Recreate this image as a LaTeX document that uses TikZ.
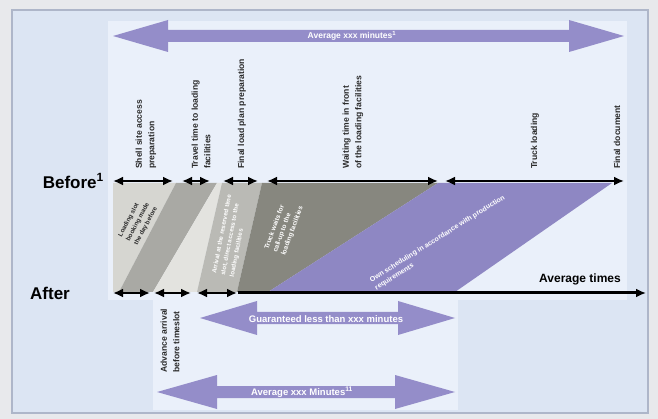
\documentclass[tikz,border=0pt]{standalone}
\usepackage{fontspec}
\setmainfont{Liberation Sans}
\usetikzlibrary{arrows.meta}
\definecolor{bgout}{HTML}{E8E9EC}
\definecolor{framefill}{HTML}{DCE5F3}
\definecolor{framedraw}{HTML}{AEB6C9}
\definecolor{lightarea}{HTML}{EAF0FA}
\definecolor{purp}{HTML}{8E87C3}
\definecolor{purparrow}{HTML}{948DC9}
\definecolor{gA}{HTML}{D6D6D1}
\definecolor{gB}{HTML}{A9A9A4}
\definecolor{gC}{HTML}{E3E3DF}
\definecolor{gD}{HTML}{BABAB5}
\definecolor{gE}{HTML}{87877F}
\definecolor{darktext}{HTML}{2A2A2A}
\newcommand\dblarrow[5]{%
  \fill[purparrow] (#1,#3) -- (#1+#4,#3-#5) -- (#1+#4,#3-6) -- (#2-#4,#3-6) -- (#2-#4,#3-#5) -- (#2,#3)
   -- (#2-#4,#3+#5) -- (#2-#4,#3+6) -- (#1+#4,#3+6) -- (#1+#4,#3+#5) -- cycle;}
\tikzset{
  tip/.tip={Latex[length=10pt 0,width=9pt 0]},
  seg/.style={line width=2.8pt, tip-tip},
  segend/.style={line width=3pt, -tip},
  vlabel/.style={rotate=90, anchor=west, align=left, inner sep=0pt,
     font=\fontsize{8.6}{12.5}\selectfont\bfseries, text=darktext},
  rowlabel/.style={font=\fontsize{17}{20}\selectfont\bfseries, inner sep=0pt},
  arrowtext/.style={text=white, font=\fontsize{9.5}{11}\selectfont\bfseries, inner sep=0pt},
  bandtext/.style={font=\fontsize{6.2}{9}\selectfont\bfseries, inner sep=0pt, align=left},
}
\begin{document}
\begin{tikzpicture}[x=1pt,y=-1pt]
\useasboundingbox (0,0) rectangle (658,419);
% backgrounds
\fill[bgout] (0,0) rectangle (658,419);
\filldraw[fill=framefill, draw=framedraw, line width=1.6pt] (12,10) rectangle (648,413);
\fill[lightarea] (108,21) rectangle (627,300);
\fill[lightarea] (153,300) rectangle (458,410);

% bands
\fill[gA] (113,183) -- (176,183) -- (119,292) -- (113,292) -- cycle;
\fill[gB] (176,183) -- (217,183) -- (153,292) -- (119,292) -- cycle;
\fill[gC] (217,183) -- (222,183) -- (197,292) -- (153,292) -- cycle;
\fill[gD] (222,183) -- (262,183) -- (237,292) -- (197,292) -- cycle;
\fill[gE] (262,183) -- (438,183) -- (268,292) -- (237,292) -- cycle;
\fill[purp] (438,183) -- (612,183) -- (455,292) -- (268,292) -- cycle;

% band texts
\node[bandtext, rotate=62, text=darktext] (t1) at (138,222) {Loading slot\\booking made\\the day before};
\node[bandtext, rotate=79, text=white] (t2) at (231,236) {Arrival at the reserved time\\slot, direct access to the\\loading facilities};
\node[bandtext, rotate=70, text=white, font=\fontsize{6.6}{9}\selectfont\bfseries] (t3) at (284,228) {Truck waits for\\call-up to the\\loading facilities};
\node[bandtext, rotate=32, text=white, font=\fontsize{7}{9.5}\selectfont\bfseries] (t4) at (440,243) {Own scheduling in accordance with production\\requirements};

% big arrows
\dblarrow{113}{624}{36}{55}{16}
\node[arrowtext, font=\fontsize{8.5}{10}\selectfont\bfseries] (topavg) at (352,36) {Average xxx minutes\textsuperscript{1}};
\dblarrow{200}{455}{318}{57}{17}
\node[arrowtext] (guar) at (326,319) {Guaranteed less than xxx minutes};
\dblarrow{157}{455}{392}{60}{17}
\node[arrowtext] (botavg) at (302,392) {Average xxx Minutes\textsuperscript{11}};

% row labels
\node[rowlabel, anchor=east] (before) at (104,181) {Before\textsuperscript{1}};
\node[rowlabel, anchor=west] (after) at (30,293) {After};
\node[font=\fontsize{12}{14}\selectfont\bfseries, anchor=east, inner sep=0pt] (avgtimes) at (621,279) {Average times};

% before timeline
\coordinate (b0) at (113,181); \coordinate (b1) at (173,181);
\coordinate (b2) at (182,181); \coordinate (b3) at (210,181);
\coordinate (b4) at (223,181); \coordinate (b5) at (258,181);
\coordinate (b6) at (267,181); \coordinate (b7) at (438,181);
\coordinate (b8) at (445,181); \coordinate (b9) at (624,181);
\draw[seg] (b0) -- (b1);
\draw[seg] (b2) -- (b3);
\draw[seg] (b4) -- (b5);
\draw[seg] (b6) -- (b7);
\draw[seg] (b8) -- (b9);

% after timeline
\coordinate (a0) at (113,293); \coordinate (a1) at (150,293);
\coordinate (a2) at (154,293); \coordinate (a3) at (191,293);
\coordinate (a4) at (197,293); \coordinate (a5) at (237,293);
\coordinate (a6) at (238,293); \coordinate (a7) at (646,293);
\draw[seg] (a0) -- (a1);
\draw[seg] (a2) -- (a3);
\draw[seg] (a4) -- (a5);
\draw[segend] (a6) -- (a7);

% vertical labels
\node[vlabel] (l1) at (146,169) {Shell site access\\preparation};
\node[vlabel] (l2) at (201,169) {Travel time to loading\\facilities};
\node[vlabel] (l3) at (242,169) {Final load plan preparation};
\node[vlabel] (l4) at (353,169) {Waiting time in front\\of the loading facilities};
\node[vlabel] (l5) at (535,169) {Truck loading};
\node[vlabel] (l6) at (617,169) {Final document};
\node[vlabel] (l7) at (170,373) {Advance arrival\\before timeslot};
\end{tikzpicture}
\end{document}
